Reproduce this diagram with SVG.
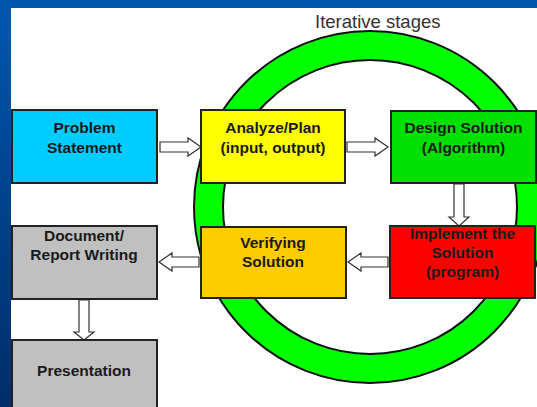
<svg xmlns="http://www.w3.org/2000/svg" width="537" height="407" viewBox="0 0 537 407">
  <defs>
    <linearGradient id="sideBlue" x1="0" y1="0" x2="0" y2="1">
      <stop offset="0" stop-color="#0057B0"/>
      <stop offset="1" stop-color="#002D68"/>
    </linearGradient>
    <style>
      .box { stroke: #222; stroke-width: 2; }
      .lbl { font-family: "Liberation Sans", Arial, sans-serif; font-weight: bold; font-size: 15.5px; fill: #1a1a1a; text-anchor: middle; }
      .arrow { fill: #ffffff; stroke: #333; stroke-width: 1.2; stroke-linejoin: miter; }
      .title { font-family: "Liberation Sans", Arial, sans-serif; font-size: 18.5px; fill: #333; }
    </style>
  </defs>

  <!-- slide background -->
  <rect x="0" y="0" width="537" height="407" fill="#ffffff"/>
  <rect x="0" y="0" width="537" height="8" fill="#0057B0"/>
  <rect x="0" y="0" width="11" height="407" fill="url(#sideBlue)"/>

  <!-- iteration ring -->
  <g id="ring">
    <circle cx="370" cy="207" r="176" fill="#00FF00" stroke="#111" stroke-width="2"/>
    <circle cx="370" cy="207" r="147" fill="#ffffff" stroke="#111" stroke-width="2"/>
    <text class="title" x="315" y="28">Iterative stages</text>
  </g>

  <!-- connectors: hollow block arrows -->
  <g id="connectors">
    <path class="arrow" d="M160,142 H188 V138 L201,147 L188,156 V152 H160 Z"/>
    <path class="arrow" d="M347,142 H375 V138 L388,147 L375,156 V152 H347 Z"/>
    <path class="arrow" d="M454,184 V217 H449 L459,226 L469,217 H464 V184 Z"/>
    <path class="arrow" d="M388,257 H361 V253 L348,262 L361,271 V267 H388 Z"/>
    <path class="arrow" d="M199,257 H172 V253 L159,262 L172,271 V267 H199 Z"/>
    <path class="arrow" d="M79,300 V332 H74 L84,340 L94,332 H89 V300 Z"/>
  </g>

  <g id="problem">
    <rect class="box" x="12" y="110" width="145" height="73" fill="#00CCFF"/>
    <text class="lbl" x="84.5" y="133">Problem</text>
    <text class="lbl" x="84.5" y="153">Statement</text>
  </g>

  <g id="analyze">
    <rect class="box" x="201" y="110" width="144" height="73" fill="#FFFF00"/>
    <text class="lbl" x="273" y="133">Analyze/Plan</text>
    <text class="lbl" x="273" y="153">(input, output)</text>
  </g>

  <g id="design">
    <rect class="box" x="391" y="111" width="145" height="72" fill="#00E000"/>
    <text class="lbl" x="463.5" y="133">Design Solution</text>
    <text class="lbl" x="463.5" y="153">(Algorithm)</text>
  </g>

  <g id="implement">
    <rect class="box" x="390" y="226" width="145" height="72" fill="#FF0000"/>
    <text class="lbl" x="462.5" y="239">Implement the</text>
    <text class="lbl" x="462.5" y="258">Solution</text>
    <text class="lbl" x="462.5" y="277">(program)</text>
  </g>

  <g id="verifying">
    <rect class="box" x="201" y="227" width="145" height="71" fill="#FFCC00"/>
    <text class="lbl" x="273" y="248">Verifying</text>
    <text class="lbl" x="273" y="267">Solution</text>
  </g>

  <g id="document">
    <rect class="box" x="12" y="226" width="145" height="73" fill="#C0C0C0"/>
    <text class="lbl" x="84" y="241">Document/</text>
    <text class="lbl" x="84" y="260">Report Writing</text>
  </g>

  <g id="presentation">
    <rect class="box" x="12" y="340" width="145" height="80" fill="#C0C0C0"/>
    <text class="lbl" x="84" y="376">Presentation</text>
  </g>
</svg>
